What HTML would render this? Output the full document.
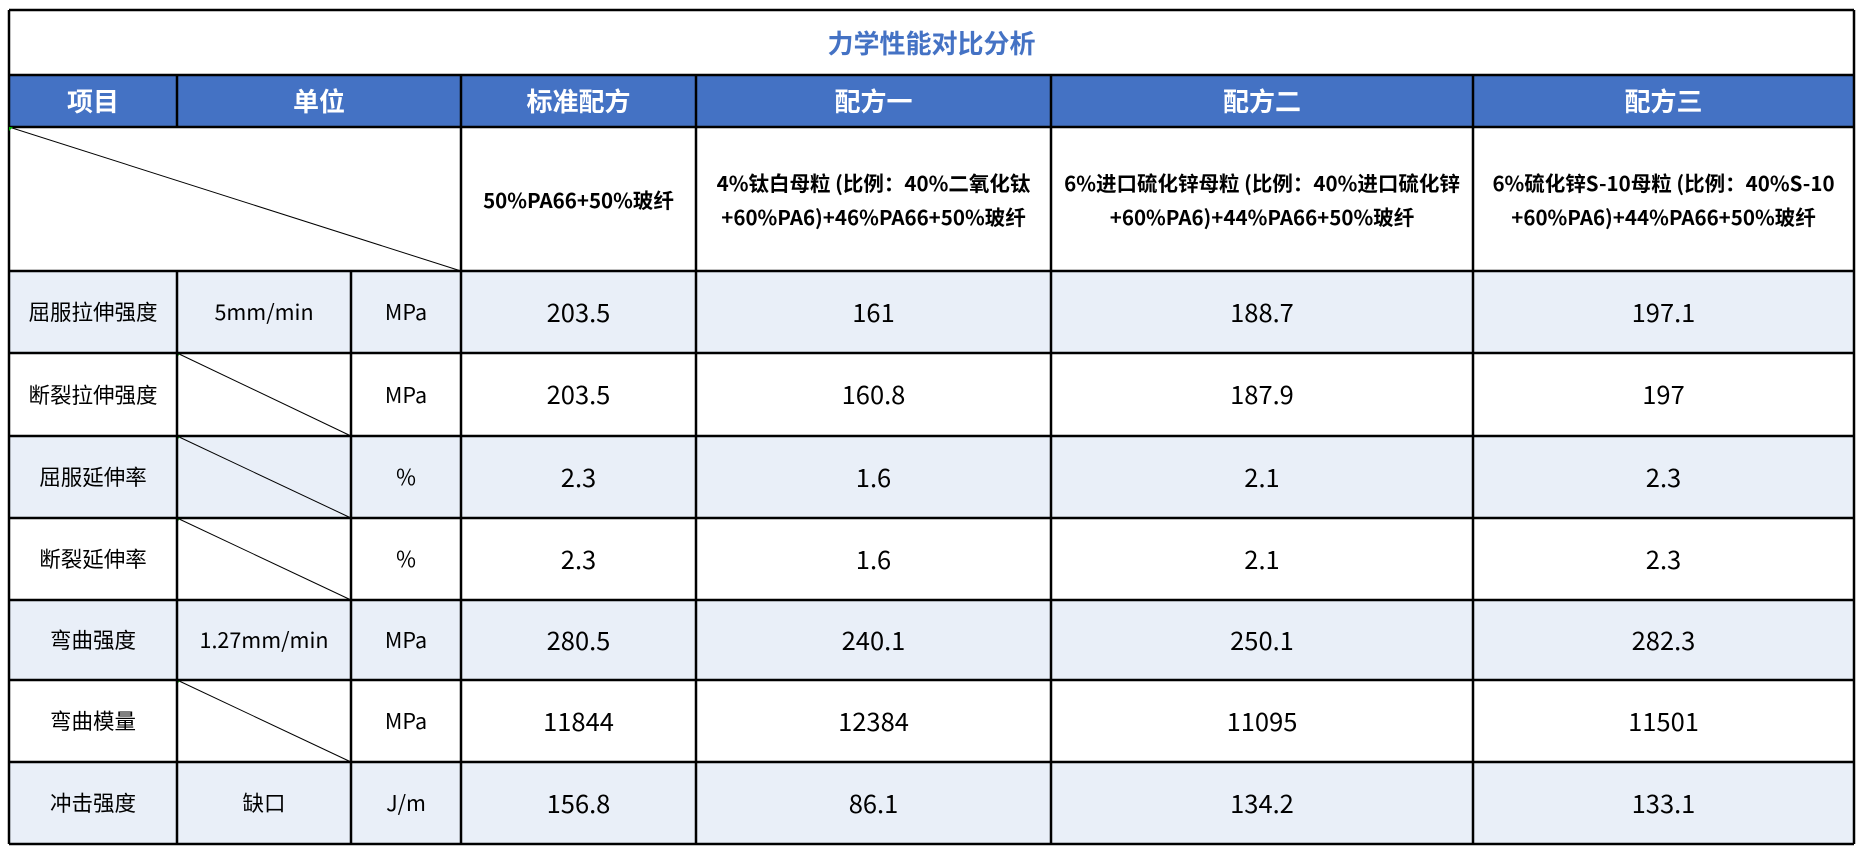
<!DOCTYPE html>
<html><head><meta charset="utf-8"><style>
body{margin:0;width:1862px;height:855px;background:#fff;position:relative;overflow:hidden;font-family:"Noto Sans CJK SC","Liberation Sans",sans-serif;}
.c{position:absolute;display:flex;align-items:center;justify-content:center;text-align:center;box-sizing:border-box;color:#000;line-height:1.2;}
.l{background:#E9EFF8;}
.h{background:#4472C4;color:#fff;font-weight:bold;font-size:26px;}
.n{font-size:25.5px;}
.t{font-size:21.5px;}
.f{font-size:20.5px;font-weight:bold;line-height:34px;}
svg{position:absolute;left:0;top:0;}
</style></head><body>
<div class="c" style="left:9px;top:10px;width:1845px;height:65px;color:#4472C4;font-weight:bold;font-size:26px;">力学性能对比分析</div>
<div class="c h" style="left:9px;top:75px;width:168px;height:52px">项目</div>
<div class="c h" style="left:177px;top:75px;width:284px;height:52px">单位</div>
<div class="c h" style="left:461px;top:75px;width:235px;height:52px">标准配方</div>
<div class="c h" style="left:696px;top:75px;width:355px;height:52px">配方一</div>
<div class="c h" style="left:1051px;top:75px;width:422px;height:52px">配方二</div>
<div class="c h" style="left:1473px;top:75px;width:381px;height:52px">配方三</div>
<div class="c f" style="left:461px;top:127px;width:235px;height:144px">50%PA66+50%玻纤</div>
<div class="c f" style="left:696px;top:127px;width:355px;height:144px;white-space:nowrap">4%钛白母粒 (比例：40%二氧化钛<br>+60%PA6)+46%PA66+50%玻纤</div>
<div class="c f" style="left:1051px;top:127px;width:422px;height:144px;white-space:nowrap">6%进口硫化锌母粒 (比例：40%进口硫化锌<br>+60%PA6)+44%PA66+50%玻纤</div>
<div class="c f" style="left:1473px;top:127px;width:381px;height:144px;white-space:nowrap">6%硫化锌S-10母粒 (比例：40%S-10<br>+60%PA6)+44%PA66+50%玻纤</div>
<div id="rows"></div>
<script>
var ys=[271,353,436,518,600,680,762,844];
var d=[["屈服拉伸强度","5mm/min","MPa","203.5","161","188.7","197.1"],
["断裂拉伸强度","","MPa","203.5","160.8","187.9","197"],
["屈服延伸率","","%","2.3","1.6","2.1","2.3"],
["断裂延伸率","","%","2.3","1.6","2.1","2.3"],
["弯曲强度","1.27mm/min","MPa","280.5","240.1","250.1","282.3"],
["弯曲模量","","MPa","11844","12384","11095","11501"],
["冲击强度","缺口","J/m","156.8","86.1","134.2","133.1"]];
var xs=[9,177,351,461,696,1051,1473,1854];
var h="";var lines="";
for(var i=0;i<7;i++){var y=ys[i],hh=ys[i+1]-y;
 h+='<div class="c'+(i%2==0?' l':'')+'" style="left:9px;top:'+y+'px;width:1845px;height:'+hh+'px"></div>';
 for(var j=0;j<7;j++){h+='<div class="c '+(j<3?'t':'n')+'" style="left:'+xs[j]+'px;top:'+y+'px;width:'+(xs[j+1]-xs[j])+'px;height:'+hh+'px">'+d[i][j]+'</div>';}
 if(d[i][1]===""){lines+='<line x1="177" y1="'+y+'" x2="351" y2="'+ys[i+1]+'" stroke="#000" stroke-width="1"/><polygon points="177,'+y+' 181,'+y+' 177,'+(y+4)+'" fill="#0a0"/>';}
 lines+='<line x1="9" y1="'+y+'" x2="1854" y2="'+y+'" stroke="#000" stroke-width="2.5"/>';
}
lines+='<line x1="9" y1="844" x2="1854" y2="844" stroke="#000" stroke-width="2.5"/>';
lines+='<line x1="9" y1="10" x2="1854" y2="10" stroke="#000" stroke-width="2.5"/><line x1="9" y1="75" x2="1854" y2="75" stroke="#000" stroke-width="2.5"/><line x1="9" y1="127" x2="1854" y2="127" stroke="#000" stroke-width="2.5"/>';
lines+='<line x1="9" y1="10" x2="9" y2="844" stroke="#000" stroke-width="2.5"/><line x1="1854" y1="10" x2="1854" y2="844" stroke="#000" stroke-width="2.5"/>';
[177,461,696,1051,1473].forEach(function(x){if(x==177){lines+='<line x1="177" y1="75" x2="177" y2="127" stroke="#000" stroke-width="2.5"/><line x1="177" y1="271" x2="177" y2="844" stroke="#000" stroke-width="2.5"/>';}else lines+='<line x1="'+x+'" y1="75" x2="'+x+'" y2="844" stroke="#000" stroke-width="2.5"/>';});
lines+='<line x1="351" y1="271" x2="351" y2="844" stroke="#000" stroke-width="2.5"/>';
lines+='<line x1="9" y1="127" x2="461" y2="271" stroke="#000" stroke-width="1"/><polygon points="9,127 13,127 9,131" fill="#0a0"/>';
document.getElementById("rows").innerHTML=h+'<svg width="1862" height="855">'+lines+'</svg>';
</script>
</body></html>
